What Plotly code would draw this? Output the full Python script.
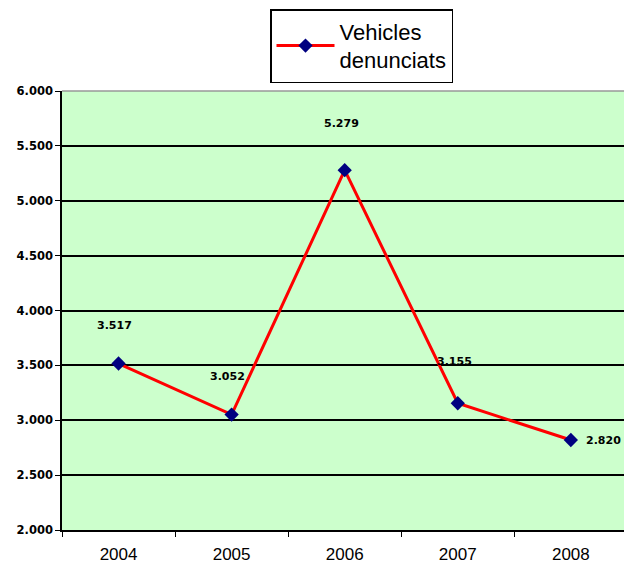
import plotly.graph_objects as go

years = ["2004", "2005", "2006", "2007", "2008"]
vehicles = [3517, 3052, 5279, 3155, 2820]
label_text = ["3.517", "3.052", "5.279", "3.155", "2.820"]
series_name = "Vehicles<br>denunciats"

# label pixel offsets relative to each point (style only)
offsets = [(-4, 38), (-4, 38), (-3, 47), (-3, 42), (33, 0)]

fig = go.Figure()
fig.add_trace(go.Scatter(
    x=years, y=vehicles, mode="lines+markers", name=series_name,
    line=dict(color="#FF0000", width=3),
    marker=dict(symbol="diamond", size=11, color="#000080"),
    hoverinfo="skip",
))

annos = []
for i, (yv, t, (ox, oy)) in enumerate(zip(vehicles, label_text, offsets)):
    annos.append(dict(x=i, y=yv, text="<b>" + t + "</b>", showarrow=False,
                      xshift=ox, yshift=oy, xref="x", yref="y",
                      font=dict(family="DejaVu Sans", size=11, color="#000000"),
                      xanchor="center", yanchor="middle"))

fig.update_layout(
    width=624, height=566,
    margin=dict(l=62, r=0, t=91, b=36, autoexpand=False),
    paper_bgcolor="white", plot_bgcolor="#CCFFCC",
    separators=",.",
    showlegend=True,
    annotations=annos,
    shapes=[dict(type="line", xref="paper", yref="paper", x0=0, x1=1, y0=1, y1=1,
                 line=dict(color="#999999", width=1.5))],
    legend=dict(x=(270 - 62) / 562, y=1 + (91 - 9) / 439, xanchor="left", yanchor="top",
                bgcolor="white", bordercolor="#000000", borderwidth=1.5,
                font=dict(family="Liberation Sans", size=22, color="#000000"),
                itemwidth=58, tracegroupgap=0),
    xaxis=dict(type="category", range=[-0.5, 4.47], tickson="boundaries",
               ticks="outside", ticklen=5, tickcolor="#000000",
               showline=True, linecolor="#000000", linewidth=1.5,
               showgrid=False, ticklabelstandoff=8,
               tickfont=dict(family="Liberation Sans", size=17, color="#000000")),
    yaxis=dict(range=[2000, 6000], dtick=500, tickformat=",d",
               ticks="outside", ticklen=5, tickcolor="#000000",
               showline=True, linecolor="#000000", linewidth=1.5,
               showgrid=True, gridcolor="#000000", gridwidth=1.5,
               zeroline=False, tickprefix="<b>", ticksuffix="</b>",
               tickfont=dict(family="DejaVu Sans", size=11.5, color="#000000")),
)

fig.write_html("out.html", config={"displayModeBar": False},
               post_script="document.body.style.margin='0';")
